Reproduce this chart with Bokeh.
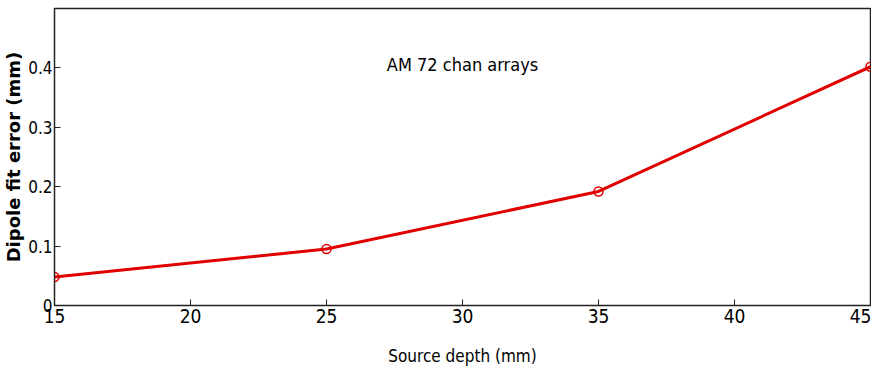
from bokeh.plotting import figure
from bokeh.models import Range1d, FixedTicker, Label
from bokeh.embed import file_html
from bokeh.resources import INLINE

depth = [15, 25, 35, 45]
error = [0.048, 0.095, 0.192, 0.402]
x_ticks = [15, 20, 25, 30, 35, 40, 45]
y_ticks = [0, 0.1, 0.2, 0.3, 0.4]

NARROW = "'DejaVu Sans Condensed', 'Liberation Sans Narrow', Roboto"

p = figure(width=871, height=368, output_backend="svg", toolbar_location=None,
           x_range=Range1d(15, 45), y_range=Range1d(0, 0.5),
           min_border_left=48, min_border_right=1, min_border_top=8, min_border_bottom=62)
p.grid.visible = False
p.outline_line_color = "#222222"
p.outline_line_width = 1.5
p.background_fill_color = "white"

p.line(depth, error, line_color="#e00000", line_width=3)
p.scatter(depth, error, marker="circle", size=9, fill_color=None,
          line_color="#e00000", line_width=1.5)

for ax in (p.xaxis[0], p.yaxis[0]):
    ax.major_tick_in = 6
    ax.major_tick_out = 0
    ax.minor_tick_line_color = None
    ax.axis_line_color = "#222222"
    ax.major_tick_line_color = "#222222"
    ax.major_label_text_font = NARROW
    ax.major_label_text_font_size = "19px"
    ax.major_label_text_color = "black"
    ax.axis_label_text_font_style = "normal"
    ax.axis_label_text_color = "black"

p.xaxis.ticker = FixedTicker(ticks=x_ticks)
p.yaxis.ticker = FixedTicker(ticks=y_ticks)
p.yaxis.major_label_overrides = {0: "0", 0.1: "0.1", 0.2: "0.2", 0.3: "0.3", 0.4: "0.4"}
p.yaxis.major_label_text_font_size = "17px"
p.xaxis.major_label_standoff = 3
p.yaxis.major_label_standoff = 2

p.xaxis.axis_label = "Source depth (mm)"
p.xaxis.axis_label_text_font = NARROW
p.xaxis.axis_label_text_font_size = "17px"
p.xaxis.axis_label_standoff = 20

p.yaxis.axis_label = "Dipole fit error (mm)"
p.yaxis.axis_label_text_font = "DejaVu Sans"
p.yaxis.axis_label_text_font_size = "18px"
p.yaxis.axis_label_text_font_style = "bold"
p.yaxis.axis_label_standoff = 1

p.add_layout(Label(x=30, y=0.405, text="AM 72 chan arrays",
                   text_font=NARROW, text_font_size="18px",
                   text_align="center", text_baseline="alphabetic",
                   text_color="black"))

open("out.html", "w").write(file_html(p, INLINE))
